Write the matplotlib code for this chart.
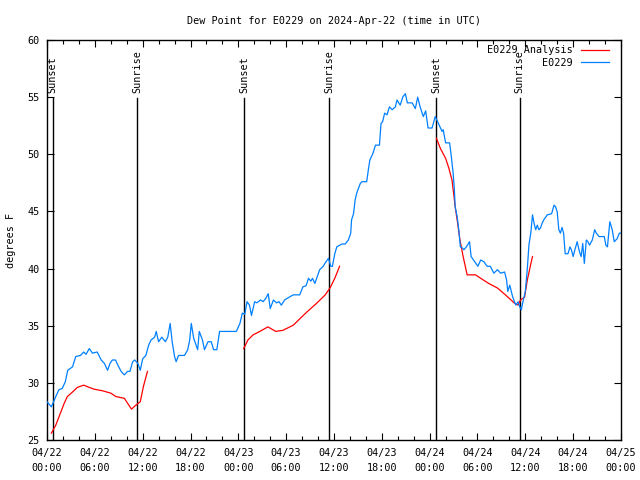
import numpy as np
import matplotlib
matplotlib.use("Agg")
import matplotlib.pyplot as plt

# hours since 2024-04-22 00:00 UTC
obs_hours = [0.0, 0.55, 1.1, 1.5, 1.9, 2.3, 2.6, 3.2, 3.6, 4.2, 4.6, 4.9, 5.3, 5.7, 6.3, 6.8, 7.2, 7.6, 7.9,
             8.2, 8.6, 8.85, 9.3, 9.7, 10.1, 10.4, 10.75, 11.0, 11.4, 11.7, 12.0, 12.4, 12.75, 13.05, 13.5,
             13.7, 14.0, 14.4, 14.85, 15.15, 15.45, 15.7, 16.0, 16.2, 16.5, 17.25, 17.65, 17.9, 18.1, 18.4,
             18.7, 18.9, 19.1, 19.5, 19.75, 20.2, 20.6, 20.9, 21.3, 21.65, 23.75, 24.2, 24.5, 24.8, 25.1,
             25.4, 25.65, 26.05, 26.3, 26.8, 27.1, 27.45, 27.75, 28.0, 28.4, 28.8, 29.1, 29.4, 29.8, 30.5,
             30.9, 31.7, 32.1, 32.5, 32.8, 33.1, 33.3, 33.6, 33.9, 34.2, 34.65, 34.9, 35.3, 35.6, 35.8, 36.1,
             36.35, 37.0, 37.4, 37.8, 38.1, 38.2, 38.45, 38.65, 38.85, 39.3, 39.5, 40.1, 40.3, 40.5, 40.9,
             41.2, 41.7, 41.9, 42.1, 42.35, 42.65, 42.95, 43.3, 43.7, 43.9, 44.3, 44.65, 44.95, 45.2, 45.8,
             46.2, 46.5, 46.8, 47.2, 47.5, 47.8, 48.3, 48.7, 49.1, 49.55, 49.7, 50.0, 50.5, 50.7, 50.95,
             51.1, 51.2, 51.45, 51.65, 51.85, 52.1, 52.3, 52.6, 53.0, 53.2, 53.75, 54.05, 54.4, 54.8, 55.2,
             55.6, 56.05, 56.5, 56.9, 57.4, 57.65, 57.8, 58.05, 58.4, 58.8, 59.1, 59.3, 59.5, 59.7, 60.0,
             60.25, 60.45, 60.7, 60.9, 61.1, 61.3, 61.5, 61.7, 61.9, 62.1, 62.3, 62.75, 63.3, 63.6, 63.8,
             64.0, 64.2, 64.4, 64.6, 64.8, 65.0, 65.35, 65.6, 65.8, 66.0, 66.2, 66.5, 66.8, 67.0, 67.2,
             67.4, 67.65, 67.85, 68.05, 68.4, 68.7, 68.9, 69.25, 69.9, 70.1, 70.3, 70.6, 70.9, 71.15, 71.5,
             71.8, 72.0]
obs_dewpt = [28.35, 27.9, 28.8, 29.4, 29.5, 30.1, 31.1, 31.4, 32.3, 32.4, 32.7, 32.5, 33.0, 32.6, 32.7, 32.0,
             31.7, 31.1, 31.7, 32.0, 32.0, 31.6, 31.0, 30.7, 31.0, 31.0, 31.85, 32.0, 31.7, 31.1, 32.1, 32.4,
             33.3, 33.75, 34.0, 34.5, 33.6, 34.0, 33.6, 34.0, 35.2, 33.6, 32.3, 31.85, 32.4, 32.4, 32.9,
             33.75, 35.2, 33.9, 33.3, 32.9, 34.5, 33.75, 32.9, 33.6, 33.6, 32.9, 32.9, 34.5, 34.5, 35.2, 36.1,
             36.0, 37.1, 36.8, 35.9, 37.1, 37.0, 37.25, 37.1, 37.4, 37.8, 36.5, 37.25, 37.0, 37.1, 36.8,
             37.25, 37.55, 37.7, 37.7, 38.4, 38.5, 39.15, 38.9, 39.15, 38.7, 39.3, 39.9, 40.2, 40.5, 40.9,
             40.2, 40.2, 41.3, 41.9, 42.15, 42.15, 42.5, 43.1, 44.25, 44.8, 46.0, 46.6, 47.45, 47.6, 47.6,
             48.6, 49.5, 50.1, 50.8, 50.8, 52.7, 52.85, 53.6, 53.45, 54.15, 53.9, 54.15, 54.75, 54.3, 55.05,
             55.3, 54.5, 54.5, 54.0, 55.0, 54.15, 53.3, 53.8, 52.3, 52.3, 53.3, 52.7, 52.0, 52.15, 51.0,
             51.0, 49.9, 48.3, 46.9, 45.4, 44.55, 43.4, 41.9, 41.8, 41.65, 41.9, 42.35, 41.05, 40.5, 40.2,
             40.75, 40.6, 40.2, 40.2, 39.6, 39.9, 39.6, 39.7, 39.0, 38.0, 38.55, 37.55, 36.8, 37.1, 36.65,
             36.4, 37.1, 38.0, 40.0, 42.05, 43.2, 44.7, 43.95, 43.4, 43.8, 43.4, 43.55, 43.95, 44.25, 44.7,
             44.8, 45.55, 45.4, 44.95, 43.4, 43.1, 43.6, 43.1, 41.3, 41.3, 41.9, 41.6, 41.05, 41.6, 42.35,
             41.45, 41.05, 42.2, 40.45, 42.5, 42.35, 42.05, 42.5, 43.4, 43.1, 42.8, 42.8, 42.05, 41.9, 44.1,
             43.4, 42.35, 42.6, 43.1, 43.1]

ana_hours = [0.55, 1.1, 1.6, 2.15, 2.55, 3.2, 3.8, 4.6, 5.3, 5.9, 7.0, 8.0, 8.65, 9.7, 10.6, 11.15, 11.7,
             12.1, 12.6, np.nan,
             24.67, 25.2, 25.85, 26.7, 27.7, 28.7, 29.6, 30.9, 31.7, 32.6, 33.8, 34.9, 35.5, 36.1, 36.7, np.nan,
             48.85, 49.35, 50.0, 50.4, 50.8, 51.0, 51.2, 51.45, 51.8, 52.2, 52.7, 53.75, 54.4, 55.4, 56.5,
             57.5, 58.6, 59.1, 59.4, 59.9, 60.25, 60.7, 60.9]
ana_dewpt = [25.6, 26.3, 27.2, 28.2, 28.8, 29.2, 29.6, 29.8, 29.6, 29.45, 29.3, 29.1, 28.8, 28.65, 27.7, 28.05,
             28.35, 29.7, 31.0, np.nan,
             33.0, 33.75, 34.2, 34.5, 34.9, 34.5, 34.6, 35.05, 35.6, 36.2, 36.95, 37.7, 38.3, 39.15, 40.2, np.nan,
             51.4, 50.5, 49.65, 48.8, 47.75, 46.6, 45.4, 44.25, 42.5, 41.05, 39.45, 39.45, 39.15, 38.7, 38.3,
             37.7, 37.0, 36.8, 37.25, 37.5, 39.0, 40.45, 41.05]

sun_hours = [0.7, 11.35, 24.75, 35.4, 48.8, 59.3]
sun_labels = ["Sunset", "Sunrise", "Sunset", "Sunrise", "Sunset", "Sunrise"]

xtick_hours = [0, 6, 12, 18, 24, 30, 36, 42, 48, 54, 60, 66, 72]
xtick_labels = ["04/22\n00:00", "04/22\n06:00", "04/22\n12:00", "04/22\n18:00",
                "04/23\n00:00", "04/23\n06:00", "04/23\n12:00", "04/23\n18:00",
                "04/24\n00:00", "04/24\n06:00", "04/24\n12:00", "04/24\n18:00",
                "04/25\n00:00"]
ytick_vals = [25, 30, 35, 40, 45, 50, 55, 60]

FS = 7.3
plt.rcParams['font.family'] = ['DejaVu Sans Mono']
plt.rcParams['font.size'] = FS

fig = plt.figure(figsize=(6.4, 4.8), dpi=100)
ax = fig.add_axes([47/640, 1 - 440/480, (621 - 47)/640, 400/480])

for h, lab in zip(sun_hours, sun_labels):
    ax.plot([h, h], [25, 54.9], color='black', lw=1.0, zorder=1)
    ax.text(h, 55.35, lab, rotation=90, ha='center', va='bottom', fontsize=FS)

ax.plot(ana_hours, ana_dewpt, color='#ff0000', lw=0.9, label='E0229 Analysis', zorder=2)
ax.plot(obs_hours, obs_dewpt, color='#0080ff', lw=0.9, label='E0229', zorder=3)

ax.set_xlim(0, 72)
ax.set_ylim(25, 60)
ax.set_xticks(xtick_hours)
ax.set_xticklabels(xtick_labels, linespacing=1.6)
ax.set_xticks(np.arange(0, 73, 2), minor=True)
ax.set_yticks(ytick_vals)
ax.set_yticklabels([str(v) for v in ytick_vals])
ax.tick_params(axis='both', which='both', direction='in', top=True, right=True, width=0.8)
ax.tick_params(axis='both', which='major', length=5)
ax.tick_params(axis='x', which='major', pad=6)
ax.tick_params(axis='y', which='major', pad=5.5)
ax.tick_params(axis='x', which='minor', length=3)
for s in ax.spines.values():
    s.set_linewidth(1.0)

ax.set_title("Dew Point for E0229 on 2024-Apr-22 (time in UTC)", fontsize=FS, pad=11.5)
ax.set_ylabel("degrees F", fontsize=FS, labelpad=8)

leg = ax.legend(loc='upper right', bbox_to_anchor=(1 - 7/574, 1), frameon=False, markerfirst=False,
                handlelength=2.8, borderaxespad=0.1, labelspacing=0.25, handletextpad=0.8, fontsize=FS)
for t in leg.get_texts():
    t.set_ha('right')
leg._legend_box.align = "right"

fig.savefig("out.png", dpi=100)
